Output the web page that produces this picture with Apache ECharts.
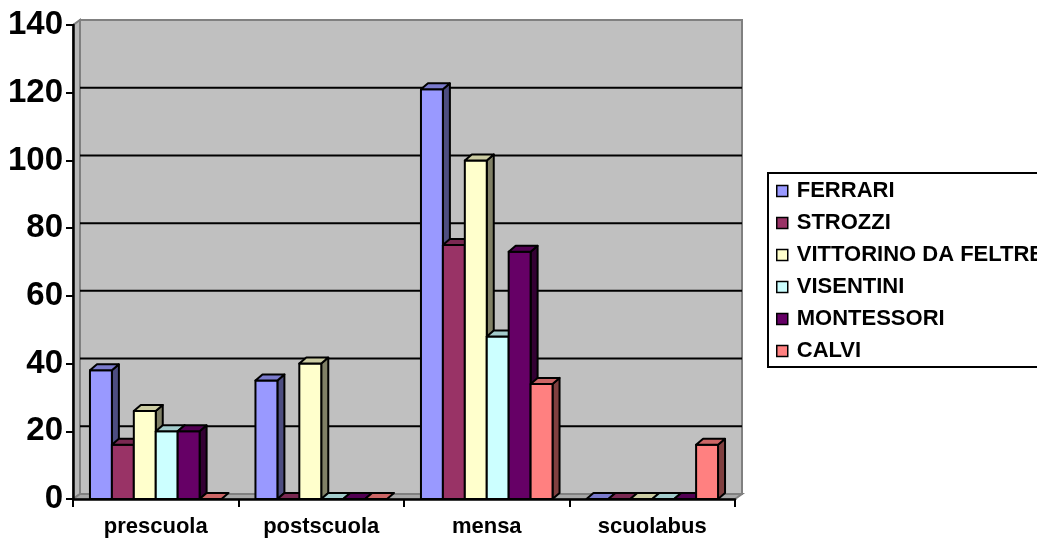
<!DOCTYPE html>
<html>
<head>
<meta charset="utf-8">
<script src="https://cdn.jsdelivr.net/npm/echarts@6/dist/echarts.min.js"></script>
<style>
  html, body { margin: 0; padding: 0; background: #ffffff; }
  #chart { width: 1037px; height: 538px; }
</style>
</head>
<body>
<div id="chart"></div>
<script>
// Services offered by each school
const categories = ['prescuola', 'postscuola', 'mensa', 'scuolabus'];
const seriesNames = ['FERRARI', 'STROZZI', 'VITTORINO DA FELTRE', 'VISENTINI', 'MONTESSORI', 'CALVI'];

// Number of pupils per service, one array per school
const ferrari    = [38, 35, 121, 0];
const strozzi    = [16, 0, 75, 0];
const vittorino  = [26, 40, 100, 0];
const visentini  = [20, 0, 48, 0];
const montessori = [20, 0, 73, 0];
const calvi      = [0, 0, 34, 16];

// Value axis ticks
const yTicks = [0, 20, 40, 60, 80, 100, 120, 140];

const seriesValues = [ferrari, strozzi, vittorino, visentini, montessori, calvi];
const seriesColors = ['#9999FF', '#993366', '#FFFFCC', '#CCFFFF', '#660066', '#FF8080'];

const FONT = '"Liberation Sans", Arial, Helvetica, sans-serif';
const BAR_DEPTH = [7, -6];   // offset of the back face of a column
const WALL_DEPTH = [7, -5];  // offset of the back wall from the front plane
const GROUP_FRAC = 0.795;    // share of a category band taken by its columns

function shade(hex, f) {
  const n = parseInt(hex.slice(1), 16);
  const r = Math.round(((n >> 16) & 255) * f);
  const g = Math.round(((n >> 8) & 255) * f);
  const b = Math.round((n & 255) * f);
  return 'rgb(' + r + ',' + g + ',' + b + ')';
}

// Extent of the front plane in pixels, from the axes
function plotFrame(api) {
  const band = api.size([1, 0])[0];
  const first = api.coord([0, yTicks[0]]);
  const last = api.coord([categories.length - 1, yTicks[yTicks.length - 1]]);
  return {
    L: first[0] - band / 2,
    R: last[0] + band / 2,
    B: first[1],
    T: last[1]
  };
}

// Back wall, side wall and floor of the 3D box
function renderWalls(params, api) {
  const f = plotFrame(api);
  const [wx, wy] = WALL_DEPTH;
  const edge = { stroke: '#808080', lineWidth: 2 };
  return {
    type: 'group',
    children: [
      { type: 'rect', shape: { x: f.L + wx, y: f.T + wy, width: f.R - f.L, height: f.B - f.T },
        style: Object.assign({ fill: '#C0C0C0' }, edge) },
      { type: 'polygon', shape: { points: [[f.L, f.B], [f.L, f.T], [f.L + wx, f.T + wy], [f.L + wx, f.B + wy]] },
        style: Object.assign({ fill: '#B8B8B8' }, edge) },
      { type: 'polygon', shape: { points: [[f.L, f.B], [f.R, f.B], [f.R + wx, f.B + wy], [f.L + wx, f.B + wy]] },
        style: Object.assign({ fill: '#A8A8A8' }, edge) }
    ]
  };
}

// Horizontal gridlines drawn on the back wall
function renderGridline(params, api) {
  const v = api.value(1);
  if (v === yTicks[0] || v === yTicks[yTicks.length - 1]) return null;
  const f = plotFrame(api);
  const y = api.coord([0, v])[1];
  const [wx, wy] = WALL_DEPTH;
  return {
    type: 'line',
    shape: { x1: f.L + wx, y1: y + wy, x2: f.R + wx, y2: y + wy },
    style: { stroke: '#000', lineWidth: 2 }
  };
}

// A 3D column: front face, right side and top
function columnRenderer(seriesIndex) {
  return function (params, api) {
    const cat = api.value(0);
    const v = api.value(1);
    const base = api.coord([cat, 0]);
    const top = api.coord([cat, v]);
    const band = api.size([1, 0])[0];
    const bw = band * GROUP_FRAC / seriesNames.length;
    const x0 = base[0] - band * GROUP_FRAC / 2 + seriesIndex * bw;
    const x1 = x0 + bw;
    const yb = base[1];
    const yt = top[1];
    const [dx, dy] = BAR_DEPTH;
    const color = seriesColors[seriesIndex];
    const line = { stroke: '#000', lineWidth: 2, lineJoin: 'round' };
    const children = [];
    if (yb - yt > 0.5) {
      children.push({ type: 'polygon',
        shape: { points: [[x1, yt], [x1 + dx, yt + dy], [x1 + dx, yb + dy], [x1, yb]] },
        style: Object.assign({ fill: shade(color, 0.5) }, line) });
      children.push({ type: 'rect',
        shape: { x: x0, y: yt, width: bw, height: yb - yt },
        style: Object.assign({ fill: color }, line) });
    }
    children.push({ type: 'polygon',
      shape: { points: [[x0, yt], [x1, yt], [x1 + dx, yt + dy], [x0 + dx, yt + dy]] },
      style: Object.assign({ fill: shade(color, 0.8) }, line) });
    return { type: 'group', children: children };
  };
}

const series = [
  { type: 'custom', name: '_walls', silent: true, z: 1, renderItem: renderWalls,
    data: [[0, 0]], tooltip: { show: false } },
  { type: 'custom', name: '_grid', silent: true, z: 2, renderItem: renderGridline,
    data: yTicks.map(function (v) { return [0, v]; }) }
];
seriesNames.forEach(function (name, i) {
  series.push({
    type: 'custom',
    name: name,
    z: 3,
    itemStyle: { color: seriesColors[i] },
    renderItem: columnRenderer(i),
    data: seriesValues[i].map(function (v, c) { return [c, v]; })
  });
});

const chart = echarts.init(document.getElementById('chart'), null, { renderer: 'canvas' });
chart.setOption({
  animation: false,
  backgroundColor: '#ffffff',
  grid: { left: 73, right: 302, top: 25, bottom: 39, containLabel: false },
  xAxis: {
    type: 'category',
    data: categories,
    z: 5,
    axisLine: { lineStyle: { color: '#000', width: 2.5 } },
    axisTick: { show: true, length: 8, lineStyle: { color: '#000', width: 2 } },
    axisLabel: { color: '#000', fontFamily: FONT, fontSize: 22, fontWeight: 'bold', margin: 17 },
    splitLine: { show: false }
  },
  yAxis: {
    type: 'value',
    min: yTicks[0],
    max: yTicks[yTicks.length - 1],
    interval: yTicks[1] - yTicks[0],
    z: 5,
    axisLine: { show: true, lineStyle: { color: '#000', width: 2.5 } },
    axisTick: { show: true, length: 7, lineStyle: { color: '#000', width: 2 } },
    axisLabel: { color: '#000', fontFamily: FONT, fontSize: 33, fontWeight: 'bold', margin: 10 },
    splitLine: { show: false }
  },
  legend: {
    orient: 'vertical',
    left: 768,
    top: 173,
    padding: [6, 10, 4, 8],
    itemGap: 8,
    itemWidth: 11,
    itemHeight: 11,
    icon: 'rect',
    borderColor: '#000',
    borderWidth: 2,
    itemStyle: { borderColor: '#000', borderWidth: 1.5 },
    textStyle: { color: '#000', fontFamily: FONT, fontSize: 22, fontWeight: 'bold',
                 lineHeight: 24, padding: [0, 0, 0, 4] },
    data: seriesNames
  },
  series: series
});
</script>
</body>
</html>
